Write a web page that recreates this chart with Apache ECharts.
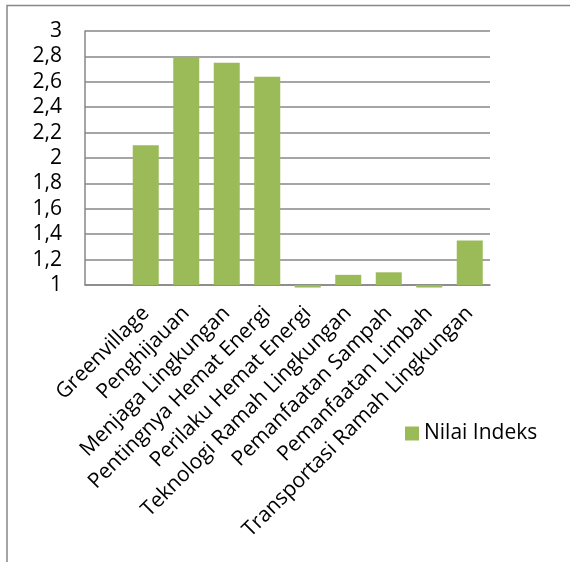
<!DOCTYPE html>
<html>
<head>
<meta charset="utf-8">
<script src="https://cdn.jsdelivr.net/npm/echarts@6/dist/echarts.min.js"></script>
<style>
html,body{margin:0;padding:0;background:#fff;}
#chart{width:570px;height:562px;}
</style>
</head>
<body>
<div id="chart"></div>
<script>
const categories = ['', 'Greenvillage', 'Penghijauan', 'Menjaga Lingkungan', 'Pentingnya Hemat Energi', 'Perilaku Hemat Energi', 'Teknologi Ramah Lingkungan', 'Pemanfaatan Sampah', 'Pemanfaatan Limbah', 'Transportasi Ramah Lingkungan'];
const nilaiIndeks = [null, 2.1, 2.79, 2.75, 2.64, 0.98, 1.08, 1.1, 0.98, 1.35];
const seriesName = 'Nilai Indeks';
const yMin = 1, yMax = 3, yStep = 0.2;

const FONT = 'Open Sans';
const gray = '#878787';
const chart = echarts.init(document.getElementById('chart'), null, {renderer: 'canvas'});

const baseData = nilaiIndeks.map(v => v == null ? null : yMin);
const deltaData = nilaiIndeks.map(v => v == null ? null : +(v - yMin).toFixed(6));

chart.setOption({
  animation: false,
  backgroundColor: '#fff',
  graphic: [{
    type: 'rect',
    shape: {x: 7, y: 5.5, width: 700, height: 700},
    style: {fill: 'none', stroke: gray, lineWidth: 1.5},
    silent: true
  }],
  grid: {left: 85, right: 80, top: 31, bottom: 277, containLabel: false},
  legend: {
    data: [seriesName],
    left: 405,
    top: 423,
    padding: 0,
    icon: 'rect',
    itemWidth: 14,
    itemHeight: 14,
    itemGap: 5,
    textStyle: {fontFamily: FONT, fontSize: 21, color: '#000', padding: [0, 0, 0, 0]}
  },
  xAxis: {
    type: 'category',
    data: categories,
    axisLine: {show: true, lineStyle: {color: gray, width: 1.5}},
    axisTick: {show: false},
    axisLabel: {
      interval: 0,
      rotate: 45,
      margin: 25,
      fontFamily: FONT,
      fontSize: 21,
      color: '#000'
    },
    splitLine: {show: false}
  },
  yAxis: {
    type: 'value',
    min: yMin,
    max: yMax,
    interval: yStep,
    axisLine: {show: true, lineStyle: {color: gray, width: 1.5}},
    axisTick: {show: false},
    axisLabel: {
      margin: 23,
      fontFamily: FONT,
      fontSize: 21,
      color: '#000',
      formatter: v => String(Math.round(v * 10) / 10).replace('.', ',')
    },
    splitLine: {show: true, lineStyle: {color: gray, width: 1.5}}
  },
  series: [
    {
      name: 'base',
      type: 'bar',
      stack: 'total',
      stackStrategy: 'all',
      silent: true,
      data: baseData,
      barWidth: 26,
      itemStyle: {color: 'rgba(0,0,0,0)'}
    },
    {
      name: seriesName,
      type: 'bar',
      stack: 'total',
      stackStrategy: 'all',
      clip: false,
      data: deltaData,
      barWidth: 26,
      itemStyle: {color: '#9BBB59'}
    }
  ]
});
</script>
</body>
</html>
